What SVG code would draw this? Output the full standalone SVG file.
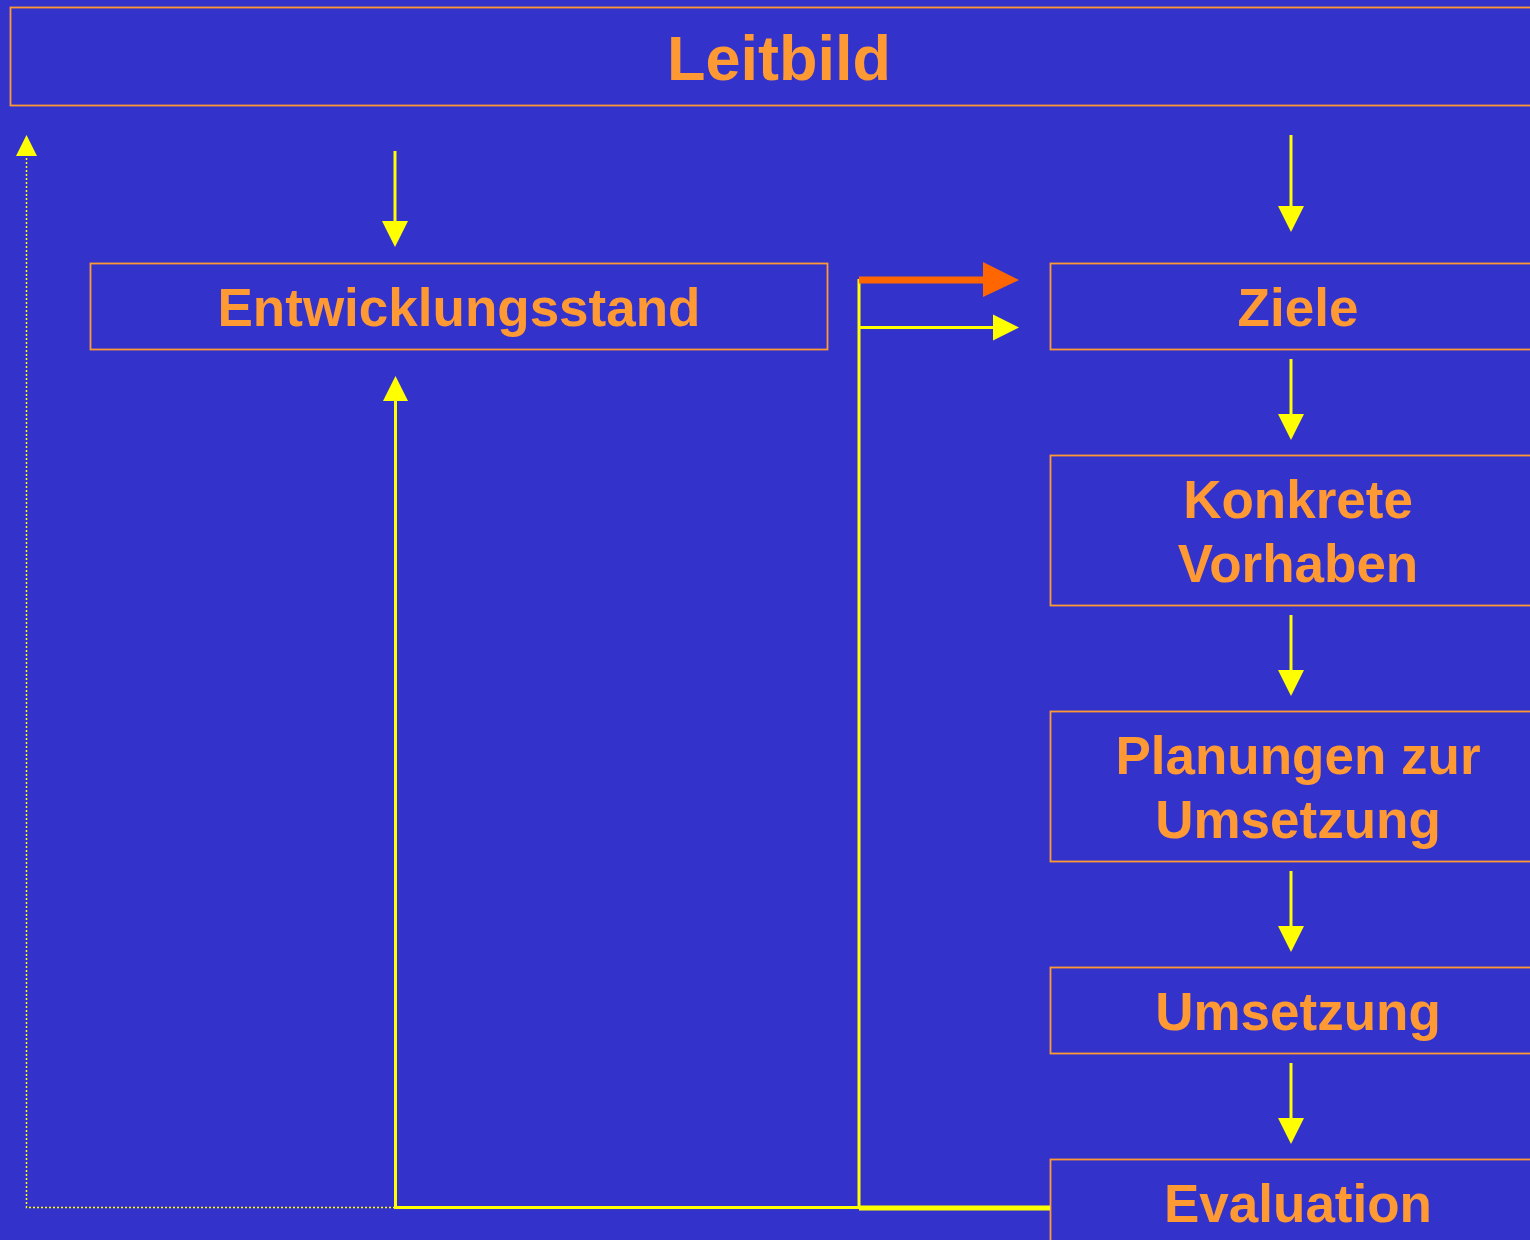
<svg xmlns="http://www.w3.org/2000/svg" width="1530" height="1240" viewBox="0 0 1530 1240">
<defs>
<style>
.box{fill:none;stroke:#FF9933;stroke-width:1.8}
.t{font-family:"Liberation Sans",Arial,sans-serif;font-weight:bold;fill:#FF9933;text-anchor:middle}
.y{stroke:#FFFF00;stroke-width:3;fill:none}
.ah{fill:#FFFF00}
</style>
</defs>
<rect width="1530" height="1240" fill="#3333CC"/>
<g id="leitbild"><rect class="box" x="10.5" y="7.5" width="1540" height="98"/><text class="t" x="779" y="80" font-size="63">Leitbild</text></g>
<g id="entwicklungsstand"><rect class="box" x="90.5" y="263.5" width="737" height="86"/><text class="t" x="459" y="326" font-size="53">Entwicklungsstand</text></g>
<g id="ziele"><rect class="box" x="1050.5" y="263.5" width="500" height="86"/><text class="t" x="1298" y="326" font-size="53">Ziele</text></g>
<g id="konkrete-vorhaben"><rect class="box" x="1050.5" y="455.5" width="500" height="150"/><text class="t" x="1298" y="518" font-size="53">Konkrete</text><text class="t" x="1298" y="582" font-size="53">Vorhaben</text></g>
<g id="planungen"><rect class="box" x="1050.5" y="711.5" width="500" height="150"/><text class="t" x="1298" y="774" font-size="53">Planungen zur</text><text class="t" x="1298" y="838" font-size="53">Umsetzung</text></g>
<g id="umsetzung"><rect class="box" x="1050.5" y="967.5" width="500" height="86"/><text class="t" x="1298" y="1030" font-size="53">Umsetzung</text></g>
<g id="evaluation"><rect class="box" x="1050.5" y="1159.5" width="500" height="100"/><text class="t" x="1298" y="1222" font-size="53">Evaluation</text></g>
<g id="connectors">
<path d="M395 1207.5 H26.5 V156" fill="none" stroke="#FFFF00" stroke-width="1.5" stroke-dasharray="2 2"/>
<polygon class="ah" points="26.5,135 16,156 37,156"/>
<line class="y" x1="395" y1="151" x2="395" y2="222"/>
<polygon class="ah" points="382,221 408,221 395,247"/>
<line x1="1050" y1="1208" x2="859" y2="1208" stroke="#FFFF00" stroke-width="5"/>
<path class="y" d="M859 1207.5 H395.5 V400"/>
<polygon class="ah" points="395.5,376 383,401 408,401"/>
<line class="y" x1="859" y1="279" x2="859" y2="1207"/>
<line x1="859" y1="280" x2="985" y2="280" stroke="#FF6600" stroke-width="7"/>
<polygon fill="#FF6600" points="983,262 1019,280 983,297"/>
<line class="y" x1="859" y1="327.5" x2="995" y2="327.5"/>
<polygon class="ah" points="993,314.5 1019,327.5 993,340.5"/>
<line class="y" x1="1291" y1="135" x2="1291" y2="208"/>
<polygon class="ah" points="1278,206 1304,206 1291,232"/>
<line class="y" x1="1291" y1="359" x2="1291" y2="416"/>
<polygon class="ah" points="1278,414 1304,414 1291,440"/>
<line class="y" x1="1291" y1="615" x2="1291" y2="672"/>
<polygon class="ah" points="1278,670 1304,670 1291,696"/>
<line class="y" x1="1291" y1="871" x2="1291" y2="928"/>
<polygon class="ah" points="1278,926 1304,926 1291,952"/>
<line class="y" x1="1291" y1="1063" x2="1291" y2="1120"/>
<polygon class="ah" points="1278,1118 1304,1118 1291,1144"/>
</g>
</svg>
